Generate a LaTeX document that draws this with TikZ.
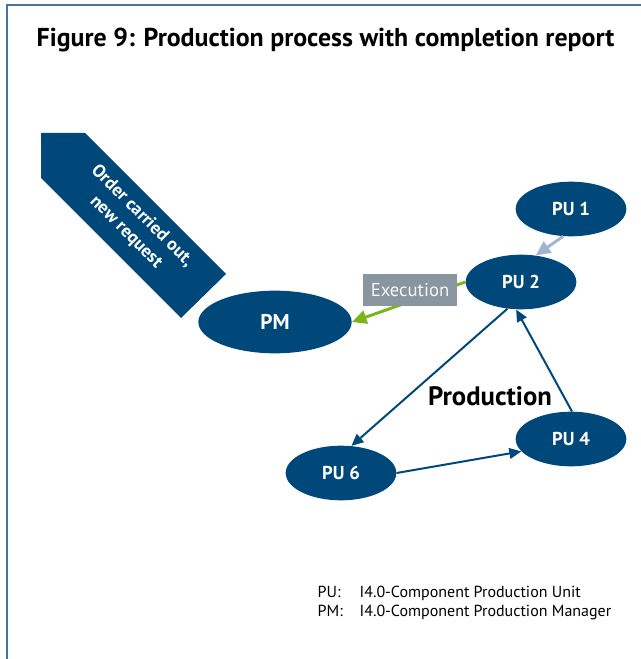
\documentclass[tikz,border=0pt]{standalone}
\usepackage{fontspec}
\setmainfont{PT Sans}
\usetikzlibrary{shapes.geometric,arrows.meta,positioning}

\definecolor{publue}{RGB}{0,72,122}
\definecolor{execgreen}{RGB}{122,181,28}
\definecolor{feedblue}{RGB}{160,180,210}
\definecolor{execgray}{RGB}{137,150,160}
\definecolor{framecol}{RGB}{70,115,165}

\begin{document}
\begin{tikzpicture}[x=0.75pt, y=-0.75pt]

        \tikzstyle{unit} = [ellipse, fill=publue, text=white, inner sep=0pt, minimum width=83pt, minimum height=41pt, font=\bfseries\fontsize{14}{16}\selectfont]
        \tikzstyle{flow} = [draw=publue, line width=1.5pt, -{Triangle[length=9pt,width=8pt]}]
        \tikzstyle{report} = [line width=2.2pt, -{Triangle[length=11pt,width=10pt]}]
        \tikzstyle{legend} = [anchor=base west, font=\fontsize{12}{14}\selectfont]

        \useasboundingbox (0,0) rectangle (641,659);
        \draw [framecol, line width=1.5pt] (7,659) -- (7,5) -- (641,5);

        \node [anchor=base west, font=\bfseries\fontsize{19.4}{22}\selectfont] (title) at (32,47) {Figure 9: Production process with completion report};

        \fill [publue] (41,133) -- (85,133) -- (226,274) -- (181,318) -- (41,178) -- cycle;
        \node [rotate=-45, text=white, align=center, font=\bfseries\fontsize{13.5}{17}\selectfont] (order) at (134,224) {Order carried out,\\new request};

        \node [unit] (pu1) at (571,209) {PU 1};
        \node [unit] (pu2) at (521,282) {PU 2};
        \node [unit] (pu4) at (571,439) {PU 4};
        \node [unit] (pu6) at (341,473) {PU 6};
        \node [unit, minimum width=115pt, minimum height=47pt, font=\bfseries\fontsize{16}{18}\selectfont] (pm) at (275,322) {PM};

        \draw [report, draw=feedblue] (pu1.254) -- (pu2.61);
        \draw [report, draw=execgreen] (pu2.west) -- (pm.east);
        \node [fill=execgray, text=white!92!execgray, minimum width=70pt, minimum height=24pt, inner sep=0pt, font=\fontsize{14}{16}\selectfont] (exec) at (410,290) {Execution};

        \draw [flow] (pu2.243) -- (pu6.69);
        \draw [flow] (pu6.east) -- (pu4.194);
        \draw [flow] (pu4.88) -- (pu2.260);

        \node [anchor=base, font=\bfseries\fontsize{20}{22}\selectfont] (prod) at (490,405) {Production};

        \node [legend] (legpu) at (313,597) {PU:};
        \node [legend] (legpm) at (313,616) {PM:};
        \node [legend] (legpudesc) at (355,597) {I4.0-Component Production Unit};
        \node [legend] (legpmdesc) at (355,616) {I4.0-Component Production Manager};

    \end{tikzpicture}
\end{document}
